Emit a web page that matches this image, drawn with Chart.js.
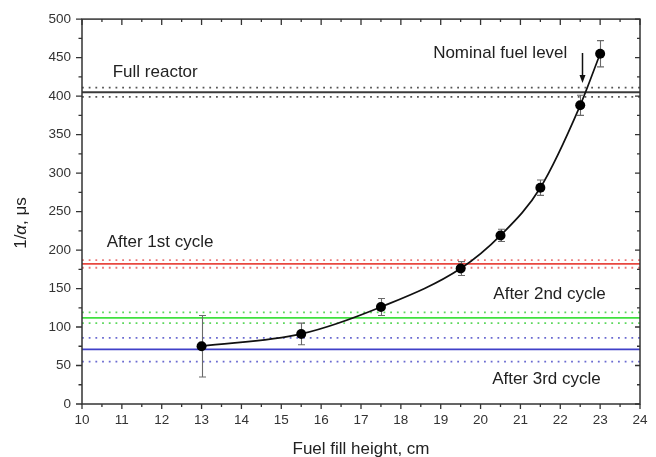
<!DOCTYPE html>
<html>
<head>
<meta charset="utf-8">
<script src="https://cdn.jsdelivr.net/npm/chart.js@4.4.0/dist/chart.umd.min.js"></script>
<style>
html,body{margin:0;padding:0;background:#fff;}
#wrap{width:656px;height:457px;}
</style>
</head>
<body>
<div id="wrap"><canvas id="c" width="656" height="457"></canvas></div>
<script>
// ---- data ----
const fillHeight = [13, 15.5, 17.5, 19.5, 20.5, 21.5, 22.5, 23];
const invAlpha   = [75, 91, 126, 176, 219, 281, 388, 455];
const errAlpha   = [40, 14, 11, 9, 8, 10, 13, 17];

const levelNames  = ['Full reactor', 'After 1st cycle', 'After 2nd cycle', 'After 3rd cycle'];
const levelValue  = [405, 182, 112, 71];
const levelLower  = [399, 177, 105, 55];
const levelUpper  = [411, 187, 119, 86];

const xTicks = [10, 11, 12, 13, 14, 15, 16, 17, 18, 19, 20, 21, 22, 23, 24];
const yTicks = [0, 50, 100, 150, 200, 250, 300, 350, 400, 450, 500];

const nominalLevel = 22.54;

// ---- styles ----
const FONT = "'Liberation Sans', Arial, sans-serif";
const levelSolid  = ['#3a3a3a', '#e8473f', '#3fe03f', '#4040c8'];
const levelDotted = ['#555555', '#e87878', '#5cd85c', '#6a6ad0'];
const annotations = [
  {text: 'Full reactor',        x: 10.77, y: 425},
  {text: 'Nominal fuel level',  x: 18.81, y: 450},
  {text: 'After 1st cycle',     x: 10.62, y: 204.5},
  {text: 'After 2nd cycle',     x: 20.32, y: 136},
  {text: 'After 3rd cycle',     x: 20.29, y: 26}
];

const xMin = xTicks[0], xMax = xTicks[xTicks.length - 1];
const yMin = yTicks[0], yMax = yTicks[yTicks.length - 1];

const datasets = [];
datasets.push({
  label: 'data', type: 'scatter', order: 0,
  data: fillHeight.map((x, i) => ({x, y: invAlpha[i]})),
  pointRadius: 5, pointBackgroundColor: '#000', pointBorderColor: '#000', pointBorderWidth: 0
});
datasets.push({
  label: 'fit', type: 'line', order: 1,
  data: fillHeight.map((x, i) => ({x, y: invAlpha[i]})),
  borderColor: '#111', borderWidth: 1.7, pointRadius: 0, fill: false,
  cubicInterpolationMode: 'monotone'
});
levelValue.forEach((v, i) => {
  datasets.push({
    label: levelNames[i], type: 'line', order: 2,
    data: [{x: xMin, y: v}, {x: xMax, y: v}],
    borderColor: levelSolid[i], borderWidth: 1.8, pointRadius: 0, fill: false
  });
  [levelLower[i], levelUpper[i]].forEach(b => {
    datasets.push({
      label: levelNames[i] + ' bound', type: 'line', order: 3,
      data: [{x: xMin, y: b}, {x: xMax, y: b}],
      borderColor: levelDotted[i], borderWidth: 1.8, borderDash: [1.8, 4.9], pointRadius: 0, fill: false
    });
  });
});

const decor = {
  id: 'decor',
  beforeDatasetDraw(chart, args) {
    if (args.index !== 0) return;
    const {ctx, scales: {x, y}} = chart;
    ctx.save();
    ctx.strokeStyle = '#6a6a6a';
    ctx.lineWidth = 1.1;
    fillHeight.forEach((h, i) => {
      const px = Math.round(x.getPixelForValue(h)) + 0.5;
      const top = y.getPixelForValue(invAlpha[i] + errAlpha[i]);
      const bot = y.getPixelForValue(invAlpha[i] - errAlpha[i]);
      ctx.beginPath();
      ctx.moveTo(px, top); ctx.lineTo(px, bot);
      ctx.moveTo(px - 3.5, top); ctx.lineTo(px + 3.5, top);
      ctx.moveTo(px - 3.5, bot); ctx.lineTo(px + 3.5, bot);
      ctx.stroke();
    });
    ctx.restore();
  },
  afterDraw(chart) {
    const {ctx, chartArea: a, scales: {x, y}} = chart;
    ctx.save();
    // frame
    ctx.strokeStyle = '#333';
    ctx.lineWidth = 1.5;
    ctx.strokeRect(a.left, a.top, a.right - a.left, a.bottom - a.top);
    ctx.lineWidth = 1.3;
    ctx.beginPath();
    // x ticks
    for (let v = xMin; v <= xMax + 1e-9; v += 0.5) {
      const px = x.getPixelForValue(v);
      const major = Math.abs(v - Math.round(v)) < 1e-9;
      const lb = major ? 5 : 3, lt = major ? 6 : 3;
      ctx.moveTo(px, a.bottom); ctx.lineTo(px, a.bottom + lb);
      ctx.moveTo(px, a.top); ctx.lineTo(px, a.top + lt);
    }
    // y ticks
    for (let v = yMin; v <= yMax + 1e-9; v += 25) {
      const py = y.getPixelForValue(v);
      const major = v % 50 === 0;
      const ll = major ? 6 : 3.5, lr = major ? 5 : 3;
      ctx.moveTo(a.left - ll, py); ctx.lineTo(a.left, py);
      ctx.moveTo(a.right, py); ctx.lineTo(a.right - lr, py);
    }
    ctx.stroke();

    // annotations
    ctx.fillStyle = '#222';
    ctx.font = '17px ' + FONT;
    ctx.textBaseline = 'alphabetic';
    ctx.textAlign = 'left';
    annotations.forEach(t => {
      ctx.fillText(t.text, x.getPixelForValue(t.x), y.getPixelForValue(t.y));
    });

    // arrow
    const ax = Math.round(x.getPixelForValue(nominalLevel)) + 0.5;
    const ay0 = y.getPixelForValue(456), ay1 = y.getPixelForValue(417);
    ctx.strokeStyle = '#111';
    ctx.lineWidth = 1.5;
    ctx.beginPath();
    ctx.moveTo(ax, ay0); ctx.lineTo(ax, ay1 - 5);
    ctx.stroke();
    ctx.fillStyle = '#111';
    ctx.beginPath();
    ctx.moveTo(ax, ay1); ctx.lineTo(ax - 3, ay1 - 8); ctx.lineTo(ax + 3, ay1 - 8); ctx.closePath();
    ctx.fill();

    // axis titles
    ctx.fillStyle = '#222';
    ctx.font = '17px ' + FONT;
    ctx.textAlign = 'center';
    ctx.fillText('Fuel fill height, cm', (a.left + a.right) / 2, 454);
    ctx.save();
    ctx.translate(26, 223);
    ctx.rotate(-Math.PI / 2);
    const p1 = '1/', p2 = 'α', p3 = ', μs';
    ctx.font = '17px ' + FONT;
    const w1 = ctx.measureText(p1).width, w3 = ctx.measureText(p3).width;
    ctx.font = 'italic 17px ' + FONT;
    const w2 = ctx.measureText(p2).width;
    const total = w1 + w2 + w3;
    ctx.textAlign = 'left';
    let cx = -total / 2;
    ctx.font = '17px ' + FONT; ctx.fillText(p1, cx, 0); cx += w1;
    ctx.font = 'italic 17px ' + FONT; ctx.fillText(p2, cx, 0); cx += w2;
    ctx.font = '17px ' + FONT; ctx.fillText(p3, cx, 0);
    ctx.restore();
    ctx.restore();
  }
};

new Chart(document.getElementById('c'), {
  type: 'scatter',
  data: {datasets},
  options: {
    responsive: false,
    animation: false,
    events: [],
    layout: {padding: {top: 18, right: 16, left: 0, bottom: 0}},
    plugins: {legend: {display: false}, tooltip: {enabled: false}},
    scales: {
      x: {
        type: 'linear', min: xMin, max: xMax,
        afterFit(s) { s.height = 53; },
        afterBuildTicks(s) { s.ticks = xTicks.map(v => ({value: v})); },
        grid: {display: false, drawTicks: false},
        border: {display: false},
        ticks: {padding: 8, color: '#333', font: {family: FONT, size: 13.5}, maxRotation: 0, autoSkip: false}
      },
      y: {
        type: 'linear', min: yMin, max: yMax,
        afterFit(s) { s.width = 82; },
        afterBuildTicks(s) { s.ticks = yTicks.map(v => ({value: v})); },
        grid: {display: false, drawTicks: false},
        border: {display: false},
        ticks: {padding: 11, color: '#333', font: {family: FONT, size: 13.5}, autoSkip: false}
      }
    }
  },
  plugins: [decor]
});
</script>
</body>
</html>
